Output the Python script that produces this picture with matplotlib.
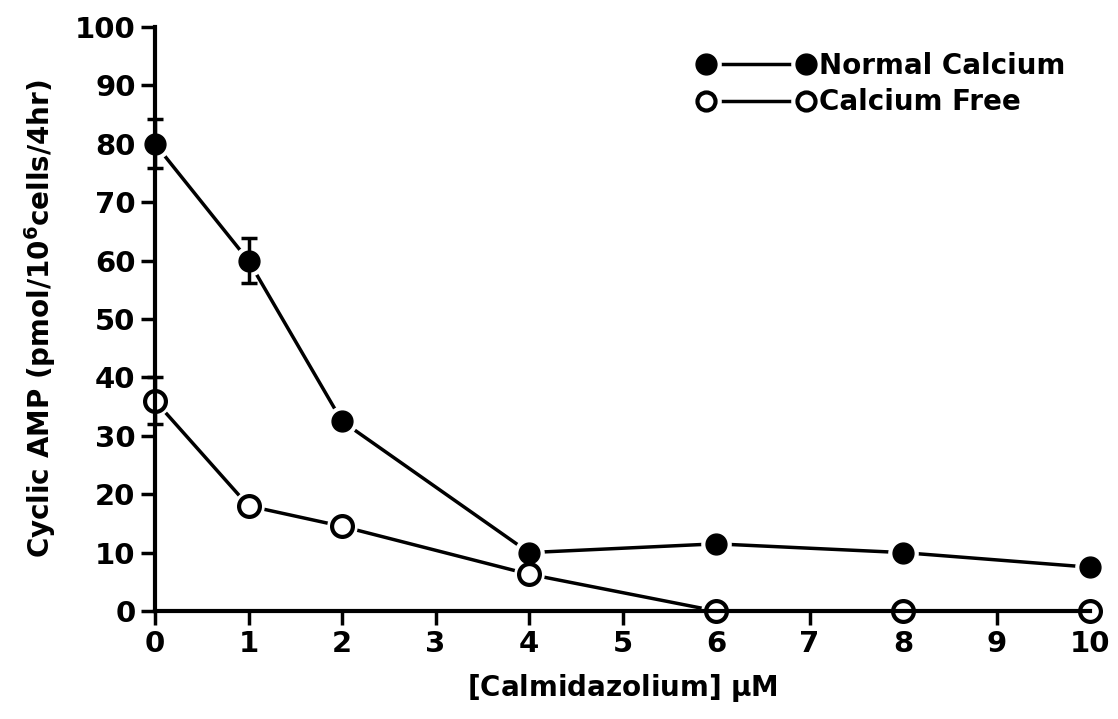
import numpy as np
import matplotlib.pyplot as plt
from matplotlib.lines import Line2D
from matplotlib.legend_handler import HandlerTuple

# data
dose = [0, 1, 2, 4, 6, 8, 10]
normal_ca = [80, 60, 32.5, 10, 11.5, 10, 7.5]
normal_err = [4.2, 3.8, 0, 0, 0, 0, 0]
free_ca = [36, 18, 14.5, 6.3, 0, 0, 0]
free_err = [4, 0, 0, 0, 0, 0, 0]

plt.rcParams['font.family'] = 'DejaVu Sans'
plt.rcParams['font.weight'] = 'bold'

fig = plt.figure(figsize=(11.18, 7.19), dpi=100)
ax = fig.add_axes([155 / 1118, 108 / 719, 935 / 1118, 584 / 719])

ms = 15
halo = ms + 6
# lines, then white halos so the lines stop short of the markers
for y in (normal_ca, free_ca):
    ax.plot(dose, y, color='black', lw=2.5, zorder=2, clip_on=False)
    ax.plot(dose, y, 'o', ms=halo, color='white', zorder=3, clip_on=False)

ax.errorbar(dose, normal_ca, yerr=normal_err, fmt='none', ecolor='black',
            elinewidth=2.5, capsize=6, capthick=2.5, zorder=4, clip_on=False)
ax.errorbar(dose, free_ca, yerr=free_err, fmt='none', ecolor='black',
            elinewidth=2.5, capsize=6, capthick=2.5, zorder=4, clip_on=False)

ax.plot(dose, normal_ca, 'o', ms=ms, color='black', zorder=4.5, clip_on=False)
ax.plot(dose, free_ca, 'o', ms=ms, mfc='white', mec='black', mew=3,
        zorder=4.5, clip_on=False)

ax.set_xlim(0, 10)
ax.set_ylim(0, 100)
ax.set_xticks(range(0, 11))
ax.set_yticks(range(0, 101, 10))
for s in ('top', 'right'):
    ax.spines[s].set_visible(False)
for s in ('left', 'bottom'):
    ax.spines[s].set_linewidth(3)
    ax.spines[s].set_zorder(5)
ax.tick_params(axis='both', direction='out', length=10, width=2.5,
               labelsize=21, pad=4)

ax.set_xlabel('[Calmidazolium] $\\mathbf{\\mu}$M', fontsize=20,
              fontweight='bold', labelpad=10)
ax.set_ylabel('Cyclic AMP (pmol/10$^\\mathbf{6}$cells/4hr)', fontsize=20,
              fontweight='bold', labelpad=12)

line_only = Line2D([], [], color='black', lw=2.5)
white_dot = Line2D([], [], ls='none', marker='o', ms=halo, color='white')
h_normal = (line_only, white_dot,
            Line2D([], [], ls='none', marker='o', ms=ms, color='black'))
h_free = (line_only, white_dot,
          Line2D([], [], ls='none', marker='o', ms=ms - 2, mfc='white',
                 mec='black', mew=3))
ax.legend([h_normal, h_free], ['Normal Calcium', 'Calcium Free'],
          handler_map={tuple: HandlerTuple(ndivide=1, pad=0)}, numpoints=2,
          loc='upper right', bbox_to_anchor=(1.0, 1.0), frameon=False,
          fontsize=20, handlelength=4.2, handletextpad=0.15, labelspacing=0.3)

fig.savefig('out.png', dpi=100)
